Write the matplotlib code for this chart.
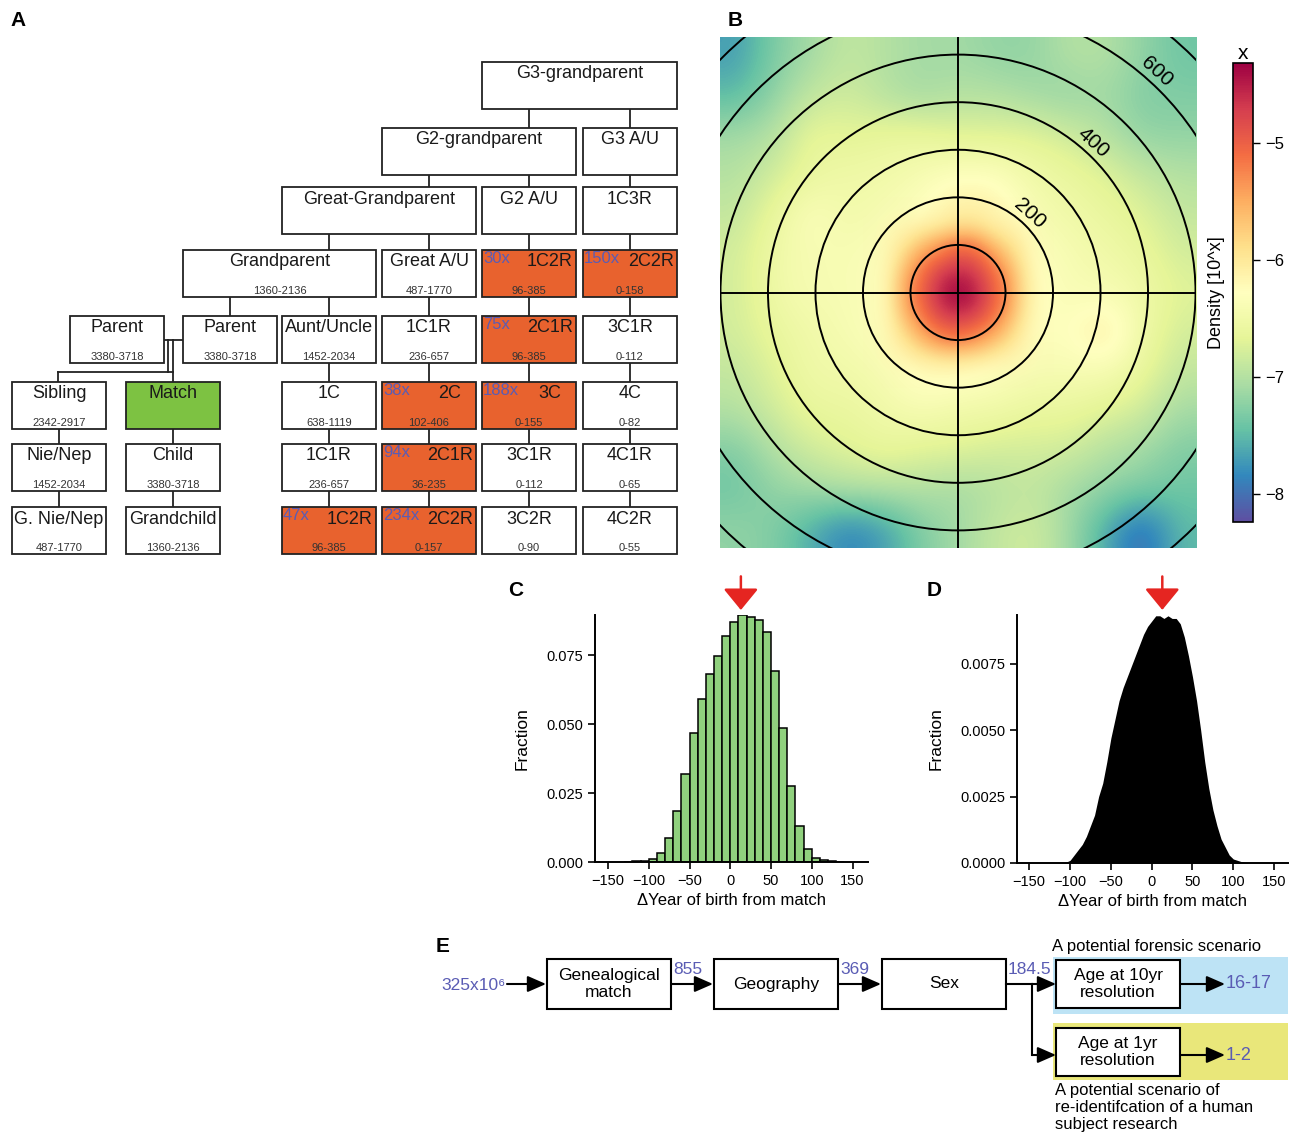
import numpy as np
import matplotlib.pyplot as plt
from matplotlib.patches import Rectangle, Circle

plt.rcParams['font.family'] = ['Liberation Sans', 'DejaVu Sans']

W, H = 1298, 1142
fig = plt.figure(figsize=(W / 100, H / 100), dpi=100)

ORANGE = '#e8622e'
GREEN = '#7dc242'
BLUE_TXT = '#5a5cb4'
RED = '#e52521'

# ---------------- data ----------------
# A: relatives, shared range and fold change
tree_names = ['G3-grandparent',
              'G2-grandparent', 'G3 A/U',
              'Great-Grandparent', 'G2 A/U', '1C3R',
              'Grandparent', 'Great A/U', '1C2R', '2C2R',
              'Parent', 'Parent', 'Aunt/Uncle', '1C1R', '2C1R', '3C1R',
              'Sibling', 'Match', '1C', '2C', '3C', '4C',
              'Nie/Nep', 'Child', '1C1R', '2C1R', '3C1R', '4C1R',
              'G. Nie/Nep', 'Grandchild', '1C2R', '2C2R', '3C2R', '4C2R']
tree_ranges = ['', '', '', '', '', '',
               '1360-2136', '487-1770', '96-385', '0-158',
               '3380-3718', '3380-3718', '1452-2034', '236-657', '96-385', '0-112',
               '2342-2917', '', '638-1119', '102-406', '0-155', '0-82',
               '1452-2034', '3380-3718', '236-657', '36-235', '0-112', '0-65',
               '487-1770', '1360-2136', '96-385', '0-157', '0-90', '0-55']
tree_fold = ['', '', '', '', '', '',
             '', '', '30x', '150x',
             '', '', '', '', '75x', '',
             '', '', '', '38x', '188x', '',
             '', '', '', '94x', '', '',
             '', '', '47x', '234x', '', '']
tree_row = [0, 1, 1, 2, 2, 2, 3, 3, 3, 3] + [4] * 6 + [5] * 6 + [6] * 6 + [7] * 6
tree_col = [6, 5, 7, 4, 6, 7, 3, 5, 6, 7,
            1, 3, 4, 5, 6, 7,
            0, 2, 4, 5, 6, 7,
            0, 2, 4, 5, 6, 7,
            0, 2, 4, 5, 6, 7]
tree_span = [2, 2, 1, 2, 1, 1, 2] + [1] * 27

# B: log10 density, coarse grid over the whole map (rows top->bottom)
density = np.array([
    [-7.7, -7.3, -7.1, -6.9, -7.0, -7.1, -7.1, -7.2, -7.2, -7.0, -7.0, -7.2, -7.4],
    [-7.5, -7.2, -6.9, -6.8, -7.0, -7.1, -7.0, -7.0, -7.1, -7.2, -7.1, -7.3, -7.3],
    [-7.1, -7.0, -6.6, -6.7, -6.6, -6.6, -6.7, -6.7, -6.7, -6.8, -7.0, -7.2, -7.2],
    [-7.0, -6.8, -6.6, -6.5, -6.5, -6.4, -6.3, -6.3, -6.5, -6.6, -6.7, -6.9, -7.0],
    [-6.9, -6.6, -6.3, -6.5, -6.4, -6.3, -6.0, -6.1, -6.4, -6.5, -6.6, -6.7, -6.9],
    [-6.8, -6.5, -6.4, -6.4, -6.3, -6.2, -6.0, -6.05, -6.3, -6.4, -6.5, -6.6, -6.8],
    [-6.8, -6.5, -6.4, -6.4, -6.3, -6.1, -5.9, -6.1, -6.2, -6.4, -6.4, -6.5, -6.7],
    [-6.8, -6.6, -6.5, -6.4, -6.3, -6.15, -6.05, -6.15, -6.3, -6.3, -6.0, -6.5, -6.8],
    [-6.9, -6.7, -6.5, -6.5, -6.4, -6.2, -6.2, -6.3, -6.4, -6.4, -6.4, -6.6, -6.9],
    [-7.0, -6.8, -6.6, -6.6, -6.5, -6.4, -6.5, -6.5, -6.6, -6.6, -6.7, -6.8, -7.1],
    [-7.3, -7.0, -6.8, -6.7, -6.6, -6.7, -6.7, -6.8, -6.8, -6.8, -7.0, -7.1, -7.3],
    [-7.4, -7.2, -7.1, -7.0, -7.0, -7.0, -7.1, -7.0, -6.9, -7.1, -7.2, -7.3, -7.4],
    [-7.2, -7.3, -7.6, -7.9, -7.7, -7.3, -7.1, -6.9, -6.8, -7.1, -7.6, -8.1, -7.5],
])
# B: finer grid around the peak (x, y within +-200)
density_core = np.array([
    [-6.25, -6.20, -6.16, -6.13, -6.11, -5.98, -5.99, -6.13, -6.16, -6.20, -6.25],
    [-6.20, -6.15, -6.10, -6.03, -5.95, -5.78, -5.83, -6.03, -6.10, -6.15, -6.20],
    [-6.16, -6.10, -5.98, -5.72, -5.45, -5.26, -5.33, -5.72, -5.98, -6.10, -6.16],
    [-6.13, -6.03, -5.72, -5.30, -5.08, -4.86, -4.96, -5.30, -5.72, -6.03, -6.13],
    [-6.11, -5.95, -5.45, -5.08, -4.68, -4.52, -4.68, -5.08, -5.45, -5.95, -6.11],
    [-6.10, -5.90, -5.38, -4.98, -4.52, -4.35, -4.52, -4.98, -5.38, -5.90, -6.10],
    [-6.11, -5.95, -5.45, -5.08, -4.68, -4.52, -4.68, -5.08, -5.45, -5.95, -6.11],
    [-6.13, -6.03, -5.72, -5.30, -5.03, -4.93, -5.08, -5.30, -5.72, -6.03, -6.13],
    [-6.16, -6.10, -5.98, -5.67, -5.40, -5.33, -5.45, -5.72, -5.98, -6.10, -6.16],
    [-6.20, -6.15, -6.10, -6.00, -5.90, -5.85, -5.95, -6.03, -6.10, -6.15, -6.20],
    [-6.25, -6.20, -6.16, -6.13, -6.11, -6.10, -6.11, -6.13, -6.16, -6.20, -6.25],
])
ring_radii = [100, 200, 300, 400, 500, 600, 700]
ring_labels = [200, 400, 600]

# C: 10-year bins
c_bins = np.arange(-130, 140, 10)
c_frac = [0.0001, 0.0002, 0.0004, 0.0012, 0.0034, 0.0088, 0.0184, 0.0318, 0.0469,
          0.0589, 0.0681, 0.0747, 0.0819, 0.0869, 0.0896, 0.0887, 0.0878, 0.0835,
          0.0691, 0.0487, 0.0274, 0.0129, 0.0046, 0.0016, 0.0006, 0.0002, 0.0001]

# D: 1-year resolution outline
d_year = [-120, -110, -105, -100, -95, -90, -85, -80, -75, -70, -65, -60, -55, -50,
          -45, -40, -35, -30, -25, -20, -15, -10, -5, 0, 5, 10, 15, 20, 25, 30, 35,
          40, 45, 50, 55, 60, 65, 70, 75, 80, 85, 90, 95, 100, 110, 120]
d_frac = [0, 0.00001, 0.00003, 0.0001, 0.0003, 0.0005, 0.0007, 0.0010, 0.0014,
          0.0018, 0.0025, 0.0030, 0.0038, 0.0047, 0.0054, 0.0061, 0.0066, 0.0070,
          0.0074, 0.0078, 0.0082, 0.0086, 0.0089, 0.0091, 0.0093, 0.0093, 0.0092,
          0.0093, 0.0092, 0.0092, 0.0090, 0.0085, 0.0078, 0.0070, 0.0061, 0.0050,
          0.0038, 0.0028, 0.0020, 0.0014, 0.0009, 0.0006, 0.0003, 0.00015, 0.00005, 0]
peak_year = 13

# E: filtering steps
e_start = '325x10\u2076'
e_steps = ['Genealogical\nmatch', 'Geography', 'Sex']
e_counts = ['855', '369', '184.5']
e_branches = ['Age at 10yr\nresolution', 'Age at 1yr\nresolution']
e_results = ['16-17', '1-2']


def px_axes(x0, y0, x1, y1):
    return fig.add_axes([x0 / W, 1 - y1 / H, (x1 - x0) / W, (y1 - y0) / H])


# ---------------- overlay (A and E) ----------------
ov = px_axes(0, 0, W, H)
ov.set_xlim(0, W)
ov.set_ylim(H, 0)
ov.axis('off')

for lab, (x, y) in zip('ABCDE', [(18, 20), (735, 20), (516, 590), (934, 590), (443, 946)]):
    ov.text(x, y, lab, fontsize=15, fontweight='bold', ha='center', va='center',
            family=['Liberation Sans Narrow', 'Liberation Sans'])

col_left = [12, 70, 126, 183, 282, 382, 482, 583]
row_top = [62, 128, 187, 250, 316, 382, 444, 507]
bw, bh = 94, 47

# connectors (drawn under boxes)
lk = dict(color='#222222', lw=1.3, zorder=1)
for c, r0, r1 in [(7, 0, 7), (6, 0, 7), (5, 1, 7), (4, 2, 7), (3, 3, 4), (0, 5, 7), (2, 5, 7)]:
    xc = col_left[c] + bw / 2
    ov.plot([xc, xc], [row_top[r0] + 20, row_top[r1] + 20], **lk)
ov.plot([163, 183], [340, 340], **lk)
ov.plot([168, 168], [340, 372], **lk)
ov.plot([173, 173], [340, 382], **lk)
ov.plot([58, 173], [372, 372], **lk)
ov.plot([58, 58], [372, 382], **lk)

for name, rng, fold, r, c, s in zip(tree_names, tree_ranges, tree_fold,
                                     tree_row, tree_col, tree_span):
    x0 = col_left[c]
    x1 = col_left[c + s - 1] + bw
    y0 = row_top[r]
    fc = ORANGE if fold else (GREEN if name == 'Match' else 'white')
    ov.add_patch(Rectangle((x0, y0), x1 - x0, bh, facecolor=fc, edgecolor='#222222',
                           lw=1.3, zorder=2))
    xt = x0 + 68 if fold else (x0 + x1) / 2
    ov.text(xt, y0 + 12, name, fontsize=13, ha='center', va='center', color='#1a1a1a',
            zorder=3)
    if rng:
        ov.text((x0 + x1) / 2, y0 + 41, rng, fontsize=8, ha='center', va='center',
                color='#333333', zorder=3)
    if fold:
        ov.text(x0 + 1, y0 + 1, fold, fontsize=12, ha='left', va='top', color=BLUE_TXT,
                zorder=3)

# ---------------- E ----------------
ak = dict(arrowstyle='-|>,head_length=0.8,head_width=0.35', color='black', lw=1.5,
          mutation_scale=14, shrinkA=0, shrinkB=0)


def arrow(x0, y0, x1, y1):
    ov.annotate('', xy=(x1, y1), xytext=(x0, y0), arrowprops=ak)


ov.add_patch(Rectangle((1053, 957), 235, 57, facecolor='#bde3f5', edgecolor='none'))
ov.add_patch(Rectangle((1053, 1023), 235, 57, facecolor='#e9e77a', edgecolor='none'))

ov.text(506, 985, e_start, fontsize=12.5, ha='right', va='center', color=BLUE_TXT)
arrow(507, 984, 546, 984)
step_x = [547, 714, 882]
for sx, lab, cnt in zip(step_x, e_steps, e_counts):
    ov.add_patch(Rectangle((sx, 959), 124, 50, facecolor='white', edgecolor='black', lw=1.5))
    ov.text(sx + 62, 984, lab, fontsize=12.5, ha='center', va='center', linespacing=1.15)
    ov.text(sx + 124 + 2, 970, cnt, fontsize=12.5, ha='left', va='center', color=BLUE_TXT)
arrow(671, 984, 713, 984)
arrow(838, 984, 881, 984)
ov.plot([1006, 1032], [984, 984], color='black', lw=1.5)
ov.plot([1032, 1032], [984, 1055], color='black', lw=1.5)
arrow(1032, 984, 1056, 984)
arrow(1032, 1055, 1056, 1055)

for by, lab, res in zip([960, 1028], e_branches, e_results):
    ov.add_patch(Rectangle((1056, by), 124, 48, facecolor='white', edgecolor='black', lw=1.5))
    ov.text(1118, by + 24, lab, fontsize=12.5, ha='center', va='center', linespacing=1.15)
    ym = 984 if by == 960 else 1055
    arrow(1180, ym, 1225, ym)
    ov.text(1226, ym, res, fontsize=13, ha='left', va='center', color=BLUE_TXT)

ov.text(1052, 946, 'A potential forensic scenario', fontsize=12, ha='left', va='center')
ov.text(1055, 1083, 'A potential scenario of\nre-identifcation of a human\nsubject research',
        fontsize=12, ha='left', va='top', linespacing=1.15)

# ---------------- B ----------------
axB = px_axes(720, 37, 1196, 548)
im = axB.imshow(density, extent=(-501, 501, -537, 537), origin='upper', cmap='Spectral_r',
                vmin=-8.24, vmax=-4.32, interpolation='bicubic', aspect='auto')
core_alpha = np.ones_like(density_core)
core_alpha[[0, -1], :] = 0
core_alpha[:, [0, -1]] = 0
core_alpha[1:-1, [1, -2]] = 0.6
core_alpha[[1, -2], 1:-1] = 0.6
core_alpha[[1, 1, -2, -2], [1, -2, 1, -2]] = 0.4
axB.imshow(density_core, extent=(-200, 200, -200, 200), origin='upper', cmap='Spectral_r',
           vmin=-8.24, vmax=-4.32, interpolation='bicubic', aspect='auto', alpha=core_alpha)
for r in ring_radii:
    axB.add_patch(Circle((0, 0), r, fill=False, lw=1.4, color='black'))
axB.axhline(0, color='black', lw=1.4)
axB.axvline(0, color='black', lw=1.4)
ang = np.deg2rad(48)
for r in ring_labels:
    d = r + 24
    axB.text(d * np.cos(ang), d * np.sin(ang), str(r), fontsize=15, rotation=-42,
             ha='center', va='center')
axB.set_xlim(-501, 501)
axB.set_ylim(-537, 537)
axB.set_xticks([])
axB.set_yticks([])
for sp in axB.spines.values():
    sp.set_visible(False)

cax = px_axes(1233, 63, 1253, 522)
cb = fig.colorbar(im, cax=cax, ticks=[-5, -6, -7, -8])
cb.outline.set_linewidth(1.2)
cax.tick_params(labelsize=12, length=5, width=1)
cax.yaxis.set_label_position('left')
cax.set_ylabel('Density [10^x]', fontsize=13, labelpad=6)
cax.set_title('x', fontsize=15, pad=2)


# ---------------- C and D ----------------
def style_hist(ax):
    for sp in ['top', 'right']:
        ax.spines[sp].set_visible(False)
    for sp in ['left', 'bottom']:
        ax.spines[sp].set_linewidth(1.4)
    ax.tick_params(labelsize=10.5, length=5, width=1.2)
    ax.set_xticks([-150, -100, -50, 0, 50, 100, 150])
    ax.set_xlabel('\u0394Year of birth from match', fontsize=12)
    ax.set_ylabel('Fraction', fontsize=12.5, labelpad=12)


red_arrow = dict(arrowstyle='-|>,head_length=0.55,head_width=0.45', color=RED,
                 lw=1.8, mutation_scale=24, shrinkA=0, shrinkB=0)

axC = px_axes(595, 615, 868, 862)
axC.bar(c_bins, c_frac, width=10, align='edge', color='#90d17e', edgecolor='black', lw=1.1)
axC.set_xlim(-166, 169)
axC.set_ylim(0, 0.0895)
axC.set_yticks([0, 0.025, 0.05, 0.075])
axC.set_yticklabels(['0.000', '0.025', '0.050', '0.075'])
style_hist(axC)
axC.annotate('', xy=(peak_year, 0.0913), xytext=(peak_year, 0.1035), annotation_clip=False,
             arrowprops=red_arrow)

axD = px_axes(1017, 615, 1288, 863)
axD.fill_between(d_year, d_frac, color='black', lw=0)
axD.set_xlim(-165, 167)
axD.set_ylim(0, 0.00933)
axD.set_yticks([0, 0.0025, 0.005, 0.0075])
axD.set_yticklabels(['0.0000', '0.0025', '0.0050', '0.0075'])
style_hist(axD)
axD.annotate('', xy=(peak_year, 0.00952), xytext=(peak_year, 0.01078), annotation_clip=False,
             arrowprops=red_arrow)

fig.savefig('out.png', dpi=100)
